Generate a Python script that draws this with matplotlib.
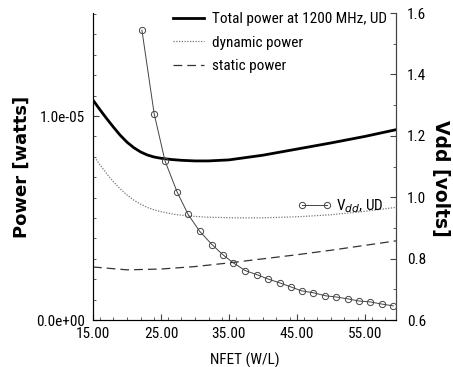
import matplotlib.pyplot as plt
import numpy as np
from matplotlib.ticker import MultipleLocator, FixedLocator, FormatStrFormatter

plt.rcParams['font.family'] = ['Roboto Condensed', 'Liberation Sans Narrow', 'Liberation Sans', 'DejaVu Sans']

# power curves (x = NFET W/L, y = watts)
x_total = [15, 16, 17, 18, 19, 20, 21, 22, 23, 24, 25, 26.5, 28, 30, 32, 35,
           40, 45, 50, 55, 60]
total = [1.078e-5, 1.032e-5, 0.988e-5, 0.946e-5, 0.906e-5, 0.872e-5, 0.845e-5,
         0.824e-5, 0.809e-5, 0.799e-5, 0.793e-5, 0.787e-5, 0.783e-5, 0.780e-5,
         0.780e-5, 0.785e-5, 0.808e-5, 0.838e-5, 0.868e-5, 0.900e-5, 0.936e-5]
x_dyn = [15, 16, 17, 18, 19, 20, 21, 22, 23, 24, 25, 27, 29, 32, 36, 40, 45,
         50, 55, 60]
dynamic = [0.81e-5, 0.762e-5, 0.718e-5, 0.678e-5, 0.643e-5, 0.613e-5, 0.588e-5,
           0.568e-5, 0.552e-5, 0.540e-5, 0.531e-5, 0.518e-5, 0.510e-5, 0.504e-5,
           0.501e-5, 0.501e-5, 0.506e-5, 0.516e-5, 0.533e-5, 0.554e-5]
x_stat = [15, 20, 25, 30, 35, 40, 45, 50, 55, 60]
static = [0.26e-5, 0.246e-5, 0.25e-5, 0.262e-5, 0.28e-5, 0.30e-5, 0.32e-5,
          0.342e-5, 0.366e-5, 0.39e-5]

# supply voltage with markers
x_vdd = [22.2, 24.0, 25.6, 27.4, 29.0, 30.7, 32.5, 34.1, 35.6, 37.4, 39.1, 40.7,
         42.5, 44.1, 45.7, 47.4, 49.2, 50.8, 52.5, 54.1, 55.8, 57.5, 59.2]
vdd = [1.544, 1.272, 1.118, 1.016, 0.944, 0.889, 0.846, 0.813, 0.787, 0.761, 0.748,
       0.734, 0.721, 0.708, 0.695, 0.689, 0.679, 0.675, 0.669, 0.662, 0.659, 0.652, 0.646]

fig = plt.figure(figsize=(4.53, 3.67), dpi=100)
ax = fig.add_axes([0.2053, 0.128, 0.669, 0.8365])

l1, = ax.plot(x_total, total, color='black', lw=2.0)
l2, = ax.plot(x_dyn, dynamic, color='#777777', lw=0.9, ls=(0, (1, 1.2)))
l3, = ax.plot(x_stat, static, color='#333333', lw=0.9, ls=(0, (7, 4)))

ax.set_xlim(15, 59.6)
ax.set_ylim(0, 1.505e-5)
ax.xaxis.set_major_locator(FixedLocator([15, 25, 35, 45, 55]))
ax.xaxis.set_minor_locator(MultipleLocator(2))
ax.xaxis.set_major_formatter(FormatStrFormatter('%.2f'))
ax.yaxis.set_major_locator(FixedLocator([0, 1e-5]))
ax.yaxis.set_minor_locator(MultipleLocator(1e-6))
ax.yaxis.set_major_formatter(FormatStrFormatter('%.1e'))
ax.tick_params(which='both', direction='in', labelsize=11, color='#444444')
ax.tick_params(which='major', length=4)
ax.tick_params(which='minor', length=2.5)
ax.tick_params(axis='x', pad=5)
ax.tick_params(axis='y', pad=6)
ax.spines['top'].set_visible(False)
for s in ['left', 'bottom', 'right']:
    ax.spines[s].set_color('#444444')
    ax.spines[s].set_linewidth(0.8)

ax.set_xlabel('NFET (W/L)', fontsize=11)
ax.xaxis.set_label_coords(0.5, -0.105)
ax.set_ylabel('Power [watts]', fontsize=13, fontweight='bold',
              family=['DejaVu Sans'], va='center')
ax.yaxis.set_label_coords(-0.234, 0.5)

ax2 = ax.twinx()
l4, = ax2.plot(x_vdd, vdd, color='#444444', lw=0.7, marker='o', ms=4.5,
               mfc='none', mec='#444444', mew=0.7)
ax2.set_ylim(0.6, 1.6)
ax2.yaxis.set_major_locator(MultipleLocator(0.2))
ax2.yaxis.set_minor_locator(MultipleLocator(0.1))
ax2.yaxis.set_major_formatter(FormatStrFormatter('%.1f'))
ax2.tick_params(which='both', direction='in', labelsize=11, color='#444444')
ax2.tick_params(which='major', length=4, pad=8)
ax2.tick_params(which='minor', length=2.5)
ax2.spines['top'].set_visible(False)
ax2.spines['right'].set_color('#444444')
ax2.spines['right'].set_linewidth(0.8)
ax2.set_ylabel('Vdd [volts]', fontsize=13.5, fontweight='bold', rotation=270,
               family=['DejaVu Sans'], va='center')
ax2.yaxis.set_label_coords(1.145, 0.46)

leg2 = ax2.legend([l4], [r'V$_{dd}$, UD'], loc='center left',
                  bbox_to_anchor=(0.63, 0.371), frameon=False, fontsize=11,
                  numpoints=2, handlelength=2.2, handletextpad=0.3)
ax2.add_artist(leg2)
ax2.legend([l1, l2, l3], ['Total power at 1200 MHz, UD', 'dynamic power', 'static power'],
           loc='upper left', bbox_to_anchor=(0.22, 1.048), frameon=False, fontsize=11,
           handlelength=2.0, handletextpad=0.5, labelspacing=0.62)

fig.savefig('out.png', dpi=100)
